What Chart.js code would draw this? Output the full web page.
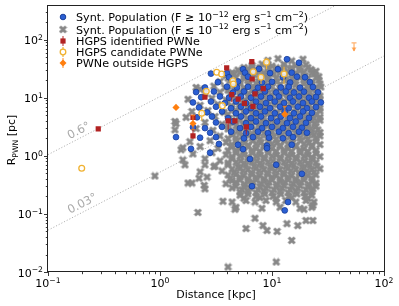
<!DOCTYPE html>
<html>
<head>
<meta charset="utf-8">
<script src="https://cdn.jsdelivr.net/npm/chart.js@4.4.1/dist/chart.umd.min.js"></script>
<style>
  html, body { margin: 0; padding: 0; background: #fff; }
  #wrap { width: 399px; height: 306px; }
</style>
</head>
<body>
<div id="wrap"><canvas id="chart" width="399" height="306"></canvas></div>
<script>
// axes
const xRange = [0.1, 100];
const yRange = [0.01, 390];
const xTicks = [0.1, 1, 10, 100];
const xTickLabels = ['10⁻¹', '10⁰', '10¹', '10²'];
const yTicks = [0.01, 0.1, 1, 10, 100];
const yTickLabels = ['10⁻²', '10⁻¹', '10⁰', '10¹', '10²'];

// lines of constant angular size
const angleLabels = ['0.6°', '0.03°'];
const angleLineD = [0.1, 100];
const angleLine06R = [1.047, 1047];
const angleLine003R = [0.0524, 52.4];

const legendLabels = [
    'Synt. Population (F ≥ 10⁻¹² erg s⁻¹ cm⁻²)',
    'Synt. Population (F ≤ 10⁻¹² erg s⁻¹ cm⁻²)',
    'HGPS identified PWNe',
    'HGPS candidate PWNe',
    'PWNe outside HGPS'
];

// synthetic population below flux limit  [distance kpc, radius pc]
const faintPop = [
    [9.2,44],[11.3,47],[15.0,43],[18.9,46],
    [6.63,36],[8.14,38],[10.0,35],[12.8,37.5],[16.3,35.5],[20.1,37],
    [5.62,33],[6.63,33.5],[7.81,32.8],[9.2,33.5],[10.9,32.8],[12.8,33.6],[15.0,32.8],[17.8,33.5],[20.9,33],
    [4.97,30],[6.10,31.5],[7.50,29],[9.2,31],[11.8,29.5],[14.5,31],[17.8,29],[22.3,30.5],[24.7,28.5],
    [4.40,27],[5.18,27.5],[6.10,26.8],[7.20,27.5],[8.48,26.8],[10.0,27.6],[11.8,26.9],[13.9,27.5],[16.3,26.8],[19.3,27.4],[22.7,27],
    [3.88,24],[4.58,25.5],[5.62,23.5],[6.91,25],[8.48,24],[10.4,25.5],[13.0,23.8],[16.0,25],[19.7,24],[23.7,25.5],[26.2,23],
    [4.05,21.8],[4.77,22.3],[5.62,21.5],[6.63,22.2],[7.81,21.4],[9.2,22.2],[10.9,21.5],[12.8,22.2],[15.0,21.4],[17.8,22.2],[20.9,21.5],[24.7,22],
    [3.43,19],[4.22,20],[5.18,18.8],[6.23,19.8],[7.65,19],[9.2,20.2],[11.1,19],[13.3,20],[16.0,18.8],[19.3,19.6],[22.7,18.5],[26.2,20],
    [4.40,17.2],[5.18,17.6],[6.10,16.9],[7.20,17.6],[8.48,16.9],[10.0,17.6],[11.8,16.9],[13.9,17.6],[16.3,16.9],[19.3,17.6],[22.7,16.9],[26.8,17.3],
    [2.10,15],[2.28,14],[3.03,15.8],[3.80,14.8],[4.67,15.5],[5.62,14.6],[6.76,15.6],[8.14,14.9],[9.8,15.7],[11.8,14.7],[14.1,15.5],[17.0,14.8],[20.5,15.6],[24.2,14.7],[27.3,15.3],
    [4.05,13.5],[4.77,13.8],[5.62,13.2],[6.63,13.8],[7.81,13.2],[9.2,13.8],[10.9,13.2],[12.8,13.8],[15.0,13.2],[17.8,13.8],[20.9,13.2],[24.7,13.6],
    [2.52,12],[3.43,12.5],[4.22,11.6],[5.18,12.4],[6.23,11.7],[7.35,12.3],[8.83,11.5],[10.4,12.4],[12.5,11.6],[15.0,12.3],[18.1,11.5],[21.8,12.4],[25.7,11.8],
    [4.40,10.6],[5.18,10.9],[6.10,10.4],[7.20,10.9],[8.48,10.4],[10.0,10.9],[11.8,10.4],[13.9,10.9],[16.3,10.4],[19.3,10.9],[22.7,10.4],[26.8,10.7],
    [1.78,9.4],[2.91,9.8],[3.88,9.1],[4.77,9.7],[5.74,9.0],[6.76,9.6],[7.97,9.1],[9.6,9.8],[11.5,9.0],[13.9,9.7],[16.7,9.1],[20.1,9.8],[23.7,9.0],[26.8,9.5],
    [4.05,8.35],[4.77,8.6],[5.62,8.2],[6.63,8.6],[7.81,8.2],[9.2,8.6],[10.9,8.2],[12.8,8.6],[15.0,8.2],[17.8,8.6],[20.9,8.2],[24.7,8.4],
    [2.28,7.4],[3.29,7.7],[4.31,7.1],[5.18,7.6],[6.10,7.2],[7.35,7.7],[8.65,7.1],[10.4,7.6],[12.3,7.2],[14.7,7.7],[17.8,7.1],[21.4,7.6],[25.2,7.3],
    [4.40,6.57],[5.18,6.75],[6.10,6.45],[7.20,6.75],[8.48,6.45],[10.0,6.75],[11.8,6.45],[13.9,6.75],[16.3,6.45],[19.3,6.75],[22.7,6.45],[26.8,6.6],
    [1.93,5.8],[2.68,6.0],[3.73,5.6],[4.67,6.0],[5.62,5.6],[6.63,6.1],[7.81,5.6],[9.4,6.0],[11.1,5.6],[13.3,6.0],[16.0,5.6],[19.3,6.0],[23.2,5.7],[26.8,5.9],
    [4.05,5.17],[4.77,5.3],[5.62,5.05],[6.63,5.3],[7.81,5.05],[9.2,5.3],[10.9,5.05],[12.8,5.3],[15.0,5.05],[17.8,5.3],[20.9,5.05],[24.7,5.2],
    [1.71,4.6],[3.10,4.75],[4.13,4.4],[5.07,4.7],[5.98,4.4],[7.05,4.75],[8.31,4.4],[9.8,4.7],[11.8,4.45],[13.9,4.75],[16.7,4.4],[20.1,4.7],[23.7,4.45],[26.8,4.6],
    [4.40,4.06],[5.18,4.17],[6.10,3.97],[7.20,4.17],[8.48,3.97],[10.0,4.17],[11.8,3.97],[13.9,4.17],[16.3,3.97],[19.3,4.17],[22.7,3.97],[26.8,4.1],
    [1.36,3.9],[1.39,3.6],[2.52,3.75],[3.58,3.5],[4.58,3.7],[5.51,3.45],[6.49,3.75],[7.65,3.5],[9.02,3.7],[10.6,3.45],[12.5,3.75],[14.7,3.5],[17.4,3.7],[20.5,3.5],[24.2,3.65],
    [4.05,3.19],[4.77,3.28],[5.62,3.12],[6.63,3.28],[7.81,3.12],[9.2,3.28],[10.9,3.12],[12.8,3.28],[15.0,3.12],[17.8,3.28],[20.9,3.12],[24.7,3.2],
    [1.36,2.8],[2.10,2.95],[2.97,2.75],[4.05,2.9],[4.97,2.7],[5.98,2.95],[7.05,2.75],[8.31,2.9],[9.8,2.7],[11.5,2.95],[13.6,2.75],[16.0,2.9],[18.9,2.7],[22.3,2.95],[25.7,2.8],
    [4.40,2.51],[5.18,2.58],[6.10,2.45],[7.20,2.58],[8.48,2.45],[10.0,2.58],[11.8,2.45],[13.9,2.58],[16.3,2.45],[19.3,2.58],[22.7,2.45],[26.8,2.52],
    [3.43,2.2],[4.40,2.3],[5.39,2.15],[6.36,2.3],[7.50,2.15],[8.83,2.3],[10.4,2.15],[12.3,2.3],[14.5,2.15],[17.0,2.3],[20.1,2.15],[23.7,2.3],[26.8,2.2],
    [4.05,1.98],[4.77,2.03],[5.62,1.93],[6.63,2.03],[7.81,1.93],[9.2,2.03],[10.9,1.93],[12.8,2.03],[15.0,1.93],[17.8,2.03],[20.9,1.93],[24.7,2.0],
    [1.85,1.75],[2.80,1.82],[3.88,1.7],[4.77,1.82],[5.74,1.68],[6.76,1.82],[7.97,1.7],[9.4,1.82],[11.1,1.68],[13.0,1.82],[15.4,1.7],[18.1,1.82],[21.4,1.68],[24.7,1.78],
    [4.40,1.55],[5.18,1.59],[6.10,1.51],[7.20,1.59],[8.48,1.51],[10.0,1.59],[11.8,1.51],[13.9,1.59],[16.3,1.51],[19.3,1.59],[22.7,1.51],[26.8,1.56],
    [1.54,1.27],[1.60,1.38],[2.28,1.44],[3.29,1.34],[4.31,1.44],[5.18,1.33],[6.10,1.44],[7.20,1.34],[8.48,1.44],[10.0,1.33],[11.8,1.44],[13.9,1.34],[16.3,1.44],[19.3,1.33],[22.7,1.42],
    [4.05,1.22],[4.77,1.25],[5.62,1.19],[6.63,1.25],[7.81,1.19],[9.2,1.25],[10.9,1.19],[12.8,1.25],[15.0,1.19],[17.8,1.25],[20.9,1.19],[24.7,1.23],
    [1.97,1.08],[2.91,1.13],[3.88,1.04],[4.77,1.13],[5.62,1.04],[6.63,1.13],[7.81,1.04],[9.2,1.13],[10.9,1.04],[12.8,1.13],[15.0,1.04],[17.8,1.13],[20.9,1.04],[24.7,1.1],
    [4.40,0.96],[5.18,0.99],[6.10,0.94],[7.20,0.99],[8.48,0.94],[10.0,0.99],[11.8,0.94],[13.9,0.99],[16.3,0.94],[19.3,0.99],[22.7,0.94],[26.8,0.97],
    [1.60,0.85],[2.52,0.89],[3.43,0.82],[4.40,0.89],[5.28,0.82],[6.23,0.89],[7.35,0.82],[8.65,0.89],[10.2,0.82],[12.0,0.89],[14.1,0.82],[16.7,0.89],[19.7,0.82],[23.2,0.87],
    [4.05,0.755],[4.77,0.775],[5.62,0.74],[6.63,0.775],[7.81,0.74],[9.2,0.775],[10.9,0.74],[12.8,0.775],[15.0,0.74],[17.8,0.775],[20.9,0.74],[24.7,0.76],
    [1.67,0.70],[2.52,0.7],[3.03,0.65],[3.10,0.67],[4.05,0.7],[4.97,0.64],[5.86,0.7],[6.91,0.65],[8.14,0.7],[9.6,0.64],[11.3,0.7],[13.3,0.65],[15.7,0.7],[18.5,0.64],[21.8,0.7],[25.2,0.66],
    [4.40,0.594],[5.18,0.61],[6.10,0.58],[7.20,0.61],[8.48,0.58],[10.0,0.61],[11.8,0.58],[13.9,0.61],[16.3,0.58],[19.3,0.61],[22.7,0.58],[26.8,0.6],
    [2.28,0.53],[3.58,0.55],[4.58,0.51],[5.51,0.55],[6.49,0.51],[7.65,0.55],[9.02,0.51],[10.6,0.55],[12.5,0.51],[14.7,0.55],[17.4,0.51],[20.5,0.55],[23.7,0.52],
    [4.05,0.468],[4.77,0.48],[5.62,0.458],[6.63,0.48],[7.81,0.458],[9.2,0.48],[10.9,0.458],[12.8,0.48],[15.0,0.458],[17.8,0.48],[20.9,0.458],[24.7,0.47],
    [0.90,0.45],[2.23,0.41],[2.63,0.43],[4.22,0.4],[5.18,0.43],[6.10,0.4],[7.20,0.43],[8.48,0.4],[10.0,0.43],[11.8,0.4],[13.9,0.43],[16.3,0.4],[19.3,0.43],[22.7,0.41],
    [4.40,0.375],[5.18,0.385],[6.10,0.367],[7.20,0.385],[8.48,0.367],[10.0,0.385],[11.8,0.367],[13.9,0.385],[16.3,0.367],[19.3,0.385],[22.7,0.367],
    [1.78,0.34],[1.93,0.34],[3.88,0.33],[4.77,0.35],[5.74,0.32],[6.76,0.35],[7.97,0.33],[9.4,0.35],[11.1,0.32],[13.0,0.35],[15.4,0.33],[18.1,0.35],[21.4,0.32],[24.7,0.34],
    [4.77,0.3],[5.62,0.295],[6.63,0.308],[7.81,0.295],[9.2,0.308],[10.9,0.295],[12.8,0.308],[15.0,0.295],[17.8,0.308],[20.9,0.295],[24.7,0.3],
    [2.48,0.31],[2.52,0.27],[4.40,0.28],[5.39,0.26],[6.36,0.28],[7.50,0.26],[8.83,0.28],[10.4,0.26],[12.3,0.28],[14.5,0.26],[17.0,0.28],[20.1,0.26],[23.2,0.27],
    [5.18,0.237],[6.10,0.243],[7.20,0.231],[8.48,0.243],[10.0,0.231],[11.8,0.243],[13.9,0.231],[16.3,0.243],[19.3,0.231],[22.7,0.24],
    [5.18,0.21],[6.10,0.22],[7.20,0.2],[8.65,0.22],[10.2,0.2],[12.0,0.22],[14.1,0.2],[16.7,0.22],[19.7,0.2],[22.7,0.21],
    [5.62,0.186],[7.81,0.19],[10.9,0.183],[15.0,0.19],[20.9,0.185],
    [3.65,0.165],[4.40,0.16],[5.86,0.17],[7.05,0.16],[8.83,0.17],[10.9,0.16],[13.3,0.17],[16.3,0.16],[20.1,0.17],[23.7,0.16],
    [4.77,0.13],[8.14,0.125],[11.8,0.13],[17.8,0.125],[22.7,0.13],
    [2.18,0.106],[4.67,0.12],[7.05,0.084],[8.31,0.063],[9.02,0.052],[5.86,0.056],[11.1,0.05],[13.6,0.068],
    [17.0,0.063],[20.1,0.077],[23.2,0.077],[23.2,0.14],[19.3,0.12],[15.0,0.035],[10.9,0.0149],[4.05,0.0122]
];

// synthetic population above flux limit
const brightPop = [
    [13.6,46],[17.4,40],
    [5.51,31],[7.65,31.5],[11.3,31],
    [2.85,26],[3.96,26.5],[5.74,27],[9.6,26.5],[15.0,27],
    [4.13,22.5],[6.10,23],[12.5,22.5],[16.7,23],[19.7,22.5],
    [3.29,18.5],[4.97,19],[8.14,18.3],[10.0,18.8],[14.5,18.3],[21.8,18.6],
    [2.52,15],[3.96,15.5],[4.87,15],[6.10,15.4],[7.50,14.9],[9.2,15.5],[12.0,15],[14.1,15.4],[17.8,14.9],[23.2,15.3],
    [2.10,12.5],[3.03,12.8],[4.49,12.3],[5.62,12.8],[7.05,12.3],[8.65,12.8],[10.9,12.3],[13.3,12.8],[15.7,12.3],[19.3,12.7],[25.7,12.4],
    [2.33,10.2],[3.43,10.5],[4.13,10],[5.28,10.5],[6.49,10],[7.97,10.5],[9.6,10],[11.5,10.5],[14.5,10],[17.4,10.5],[21.4,10],[24.7,10.3],
    [1.97,8.3],[2.85,8.6],[3.80,8.1],[4.77,8.6],[5.86,8.1],[7.20,8.6],[8.83,8.1],[10.6,8.6],[12.8,8.1],[15.4,8.6],[18.9,8.1],[22.7,8.6],[27.3,8.3],
    [2.23,6.8],[3.16,7.0],[4.31,6.6],[5.28,7.0],[6.49,6.6],[7.81,7.0],[9.6,6.6],[11.8,7.0],[14.1,6.6],[17.0,7.0],[20.5,6.6],[24.7,6.9],
    [2.63,5.6],[3.58,5.8],[4.77,5.4],[5.86,5.8],[7.20,5.4],[8.65,5.8],[10.6,5.4],[13.0,5.8],[15.7,5.4],[18.9,5.8],[22.7,5.5],
    [2.14,4.6],[2.91,4.75],[4.05,4.45],[5.28,4.75],[6.49,4.45],[7.97,4.75],[9.8,4.45],[12.0,4.75],[14.5,4.45],[17.8,4.75],[21.4,4.5],
    [3.16,3.75],[4.49,3.9],[5.86,3.65],[7.20,3.9],[8.83,3.65],[11.1,3.9],[13.6,3.65],[16.3,3.9],[20.1,3.7],
    [1.97,3.1],[2.52,3.0],[3.58,3.15],[5.18,3.0],[6.49,3.15],[8.14,3.0],[10.0,3.15],[12.5,3.0],[15.4,3.15],[18.5,3.05],
    [2.80,2.5],[4.31,2.6],[5.86,2.45],[7.50,2.6],[9.2,2.45],[11.5,2.6],[14.1,2.45],[17.4,2.6],[20.5,2.5],
    [1.39,2.1],[2.28,2.05],[3.16,2.1],[5.62,2.0],[6.76,2.1],[9.4,2.05],[12.5,2.0],[15.4,2.1],
    [3.36,1.6],[4.97,1.55],[9.02,1.5],[15.0,1.55],
    [1.89,1.32],[5.51,1.3],[9.02,1.35],
    [2.80,1.13],
    [6.36,0.88],[10.9,0.7],[18.5,0.49],[6.63,0.3],[13.9,0.16],[13.0,0.115]
];

// HGPS identified PWNe and their radius ranges
const hgpsIdentified = [
    [0.281,2.9],[3.94,32.6],[6.6,42],[2.52,10.2],[4.37,11.3],[4.99,9.5],[5.67,8.0],[6.65,21],
    [8.35,14.4],[7.05,11.7],[4.67,4.0],[1.97,4.6],[1.97,2.2],[4.06,4.0],[5.9,3.15],[6.76,7.1]
];
const hgpsIdentifiedErr = [
    null,null,null,null,[8.4,12.6],null,null,null,
    null,null,null,null,[1.95,2.8],[2.83,4.3],[2.3,3.3],[6.3,7.7]
];

// HGPS candidate PWNe
const hgpsCandidate = [
    [0.2,0.61],[3.21,27.4],[3.55,25.5],[4.47,19.6],[4.52,17.2],[2.59,12.9],
    [3.6,7.3],[2.36,5.4],[8.94,41],[6.8,28],[7.98,22.5],[12.8,25.5]
];
const hgpsCandidateErr = [
    null,null,null,null,null,null,
    null,[4.06,6.3],[31,48],null,[17.2,25.7],[17.2,34]
];

// PWNe outside the HGPS region
const outsideHGPS = [[1.39,6.8],[1.97,3.6],[13.0,5.2]];
const outsideHGPSErr = [null,[2.83,4.97],[4.8,7.1]];
const outsideLimit = [[54,88]];
const outsideLimitErr = [[64,88]];

const FONT = "'DejaVu Sans', sans-serif";
const ROW_Y = [17, 29.5, 41, 52, 63];
const SUP = { '⁻': '−', '⁰': '0', '¹': '1', '²': '2' };

function crossMarker(size, color) {
    const c = document.createElement('canvas');
    c.width = size;
    c.height = size;
    const g = c.getContext('2d');
    const m = size * 0.17;
    g.strokeStyle = color;
    g.lineWidth = size * 0.33;
    g.beginPath();
    g.moveTo(m, m); g.lineTo(size - m, size - m);
    g.moveTo(size - m, m); g.lineTo(m, size - m);
    g.stroke();
    return c;
}

const grayCross = crossMarker(9, '#878787');
const toXY = pts => pts.map(p => ({ x: p[0], y: p[1] }));

// text with smaller raised superscripts, like matplotlib mathtext
function richText(ctx, text, x, y, size, align) {
    const runs = [];
    for (const ch of text) {
        const sup = ch in SUP;
        const c = sup ? SUP[ch] : ch;
        if (runs.length && runs[runs.length - 1].sup === sup) runs[runs.length - 1].t += c;
        else runs.push({ t: c, sup });
    }
    let w = 0;
    runs.forEach(r => {
        ctx.font = (r.sup ? size * 0.7 : size) + 'px ' + FONT;
        r.w = ctx.measureText(r.t).width;
        w += r.w;
    });
    let cx = align === 'right' ? x - w : align === 'center' ? x - w / 2 : x;
    ctx.textAlign = 'left';
    ctx.textBaseline = 'alphabetic';
    runs.forEach(r => {
        ctx.font = (r.sup ? size * 0.7 : size) + 'px ' + FONT;
        ctx.fillText(r.t, cx, r.sup ? y - size * 0.4 : y);
        cx += r.w;
    });
}

function drawBar(ctx, px, yTop, yBot, cap, arrow) {
    ctx.beginPath();
    ctx.moveTo(px, yTop);
    ctx.lineTo(px, yBot);
    if (cap) {
        ctx.moveTo(px - cap, yTop); ctx.lineTo(px + cap, yTop);
        if (!arrow) { ctx.moveTo(px - cap, yBot); ctx.lineTo(px + cap, yBot); }
    }
    ctx.stroke();
    if (arrow) {
        ctx.beginPath();
        ctx.moveTo(px - 2.5, yBot - 3.5);
        ctx.lineTo(px + 2.5, yBot - 3.5);
        ctx.lineTo(px, yBot + 0.5);
        ctx.closePath();
        ctx.fill();
    }
}

const overlay = {
    id: 'overlay',
    beforeDatasetDraw(chart, args) {
        const ds = chart.data.datasets[args.index];
        if (!ds.errBars) return;
        const { ctx, scales: { x, y } } = chart;
        ctx.save();
        ctx.strokeStyle = ds.errColor;
        ctx.fillStyle = ds.errColor;
        ctx.lineWidth = 1.2;
        ds.errBars.forEach((e, i) => {
            if (!e) return;
            const px = x.getPixelForValue(ds.data[i].x);
            drawBar(ctx, px, y.getPixelForValue(e[1]), y.getPixelForValue(e[0]), ds.errCap || 0, ds.arrow);
        });
        ctx.restore();
    },
    afterDraw(chart) {
        const { ctx, chartArea: a, scales: { x, y } } = chart;
        ctx.save();

        // frame
        ctx.strokeStyle = '#222';
        ctx.lineWidth = 1;
        ctx.strokeRect(Math.round(a.left) - 0.5, Math.round(a.top) + 0.5,
            Math.round(a.right - a.left) + 1, Math.round(a.bottom - a.top) - 1);

        // ticks
        ctx.lineWidth = 0.9;
        ctx.beginPath();
        for (let e = -1; e < 2; e++) {
            for (let m = 1; m < 10; m++) {
                const px = Math.round(x.getPixelForValue(m * Math.pow(10, e))) + 0.5;
                ctx.moveTo(px, a.bottom);
                ctx.lineTo(px, a.bottom + (m === 1 ? 4 : 2.2));
            }
        }
        ctx.moveTo(Math.round(x.getPixelForValue(100)) + 0.5, a.bottom);
        ctx.lineTo(Math.round(x.getPixelForValue(100)) + 0.5, a.bottom + 4);
        for (let e = -2; e < 3; e++) {
            for (let m = 1; m < 10; m++) {
                const v = m * Math.pow(10, e);
                if (v > yRange[1]) break;
                const py = Math.round(y.getPixelForValue(v)) + 0.5;
                ctx.moveTo(a.left, py);
                ctx.lineTo(a.left - (m === 1 ? 4 : 2.2), py);
            }
        }
        ctx.stroke();

        // tick labels
        ctx.fillStyle = '#000';
        xTicks.forEach((v, i) => richText(ctx, xTickLabels[i], x.getPixelForValue(v), 287, 11, 'center'));
        yTicks.forEach((v, i) => richText(ctx, yTickLabels[i], 43, y.getPixelForValue(v) + 4.5, 11, 'right'));

        // axis titles
        ctx.font = '11px ' + FONT;
        ctx.textAlign = 'center';
        ctx.textBaseline = 'alphabetic';
        ctx.fillText('Distance [kpc]', (a.left + a.right) / 2, 298);

        ctx.save();
        ctx.translate(15, 140);
        ctx.rotate(-Math.PI / 2);
        ctx.textAlign = 'left';
        ctx.font = '11px ' + FONT;
        const wR = ctx.measureText('R').width;
        const wPc = ctx.measureText(' [pc]').width;
        ctx.font = '7.7px ' + FONT;
        const wSub = ctx.measureText('PWN').width;
        let tx = -(wR + wSub + wPc) / 2;
        ctx.font = '11px ' + FONT;
        ctx.fillText('R', tx, 0);
        tx += wR;
        ctx.font = '7.7px ' + FONT;
        ctx.fillText('PWN', tx, 2.5);
        tx += wSub;
        ctx.font = '11px ' + FONT;
        ctx.fillText(' [pc]', tx, 0);
        ctx.restore();

        // angle labels
        const slope = Math.atan2(y.getPixelForValue(1) - y.getPixelForValue(10),
            x.getPixelForValue(10) - x.getPixelForValue(1));
        ctx.fillStyle = '#aaaaaa';
        ctx.font = '11.5px ' + FONT;
        ctx.textAlign = 'center';
        ctx.textBaseline = 'middle';
        [[79, 131], [82.5, 204]].forEach((p, i) => {
            ctx.save();
            ctx.translate(p[0], p[1]);
            ctx.rotate(-slope);
            ctx.fillText(angleLabels[i], 0, 0);
            ctx.restore();
        });

        // legend
        const mx = 63;
        ctx.fillStyle = '#000';
        legendLabels.forEach((t, i) => richText(ctx, t, 76, ROW_Y[i] + 4, 11.2, 'left'));

        ctx.lineWidth = 1;
        ctx.fillStyle = '#2b5fd3';
        ctx.strokeStyle = '#1a3f99';
        ctx.beginPath(); ctx.arc(mx, ROW_Y[0], 2.8, 0, Math.PI * 2); ctx.fill(); ctx.stroke();

        ctx.drawImage(grayCross, mx - 4.5, ROW_Y[1] - 4.5);

        ctx.lineWidth = 1.2;
        ctx.strokeStyle = 'rgba(178,34,34,0.8)';
        drawBar(ctx, mx, ROW_Y[2] - 5, ROW_Y[2] + 5, 0);
        ctx.fillStyle = '#b22222';
        ctx.fillRect(mx - 2.6, ROW_Y[2] - 2.6, 5.2, 5.2);

        ctx.strokeStyle = '#f0b232';
        drawBar(ctx, mx, ROW_Y[3] - 5, ROW_Y[3] + 5, 0);
        ctx.fillStyle = '#fff';
        ctx.lineWidth = 1.3;
        ctx.beginPath(); ctx.arc(mx, ROW_Y[3], 2.8, 0, Math.PI * 2); ctx.fill(); ctx.stroke();

        ctx.lineWidth = 1.2;
        ctx.strokeStyle = 'rgba(255,127,14,0.75)';
        drawBar(ctx, mx, ROW_Y[4] - 5, ROW_Y[4] + 5, 0);
        ctx.fillStyle = '#ff7f0e';
        ctx.beginPath();
        ctx.moveTo(mx, ROW_Y[4] - 3.5); ctx.lineTo(mx + 3.5, ROW_Y[4]);
        ctx.lineTo(mx, ROW_Y[4] + 3.5); ctx.lineTo(mx - 3.5, ROW_Y[4]);
        ctx.closePath(); ctx.fill();

        ctx.restore();
    }
};

const lineStyle = {
    type: 'line', showLine: true, pointRadius: 0, borderWidth: 1,
    borderColor: '#b4b4b4', borderDash: [1.2, 1.8], fill: false
};

new Chart(document.getElementById('chart'), {
    type: 'scatter',
    data: {
        datasets: [
            {
                data: toXY(outsideHGPS), pointStyle: 'rectRot', pointRadius: 3.6,
                backgroundColor: '#ff7f0e', borderColor: '#ff7f0e', borderWidth: 0,
                errBars: outsideHGPSErr, errColor: 'rgba(255,127,14,0.75)', errCap: 2
            },
            {
                data: toXY(outsideLimit), pointRadius: 0,
                errBars: outsideLimitErr, errColor: 'rgba(255,127,14,0.6)', errCap: 2.5, arrow: true
            },
            {
                data: toXY(hgpsCandidate), pointStyle: 'circle', pointRadius: 2.9,
                backgroundColor: 'rgba(255,255,255,0.75)', borderColor: '#f0b232', borderWidth: 1.3,
                errBars: hgpsCandidateErr, errColor: '#f0b232'
            },
            {
                data: toXY(hgpsIdentified), pointStyle: 'rect', pointRadius: 3.7,
                backgroundColor: '#b22222', borderWidth: 0,
                errBars: hgpsIdentifiedErr, errColor: 'rgba(178,34,34,0.8)'
            },
            {
                data: toXY(brightPop), pointStyle: 'circle', pointRadius: 2.9,
                backgroundColor: '#2b5fd3', borderColor: '#1a3f99', borderWidth: 0.8
            },
            {
                data: toXY(faintPop), pointStyle: grayCross, pointRadius: 4
            },
            Object.assign({ data: angleLineD.map((d, i) => ({ x: d, y: angleLine06R[i] })) }, lineStyle),
            Object.assign({ data: angleLineD.map((d, i) => ({ x: d, y: angleLine003R[i] })) }, lineStyle)
        ]
    },
    options: {
        responsive: false,
        animation: false,
        events: [],
        layout: { padding: { left: 48, top: 5, right: 15, bottom: 34 } },
        plugins: {
            legend: { display: false },
            tooltip: { enabled: false }
        },
        scales: {
            x: {
                type: 'logarithmic', display: false, min: xRange[0], max: xRange[1],
                afterBuildTicks: s => { s.min = xRange[0]; s.max = xRange[1]; }
            },
            y: {
                type: 'logarithmic', display: false, min: yRange[0], max: yRange[1],
                afterBuildTicks: s => { s.min = yRange[0]; s.max = yRange[1]; }
            }
        }
    },
    plugins: [overlay]
});
</script>
</body>
</html>
